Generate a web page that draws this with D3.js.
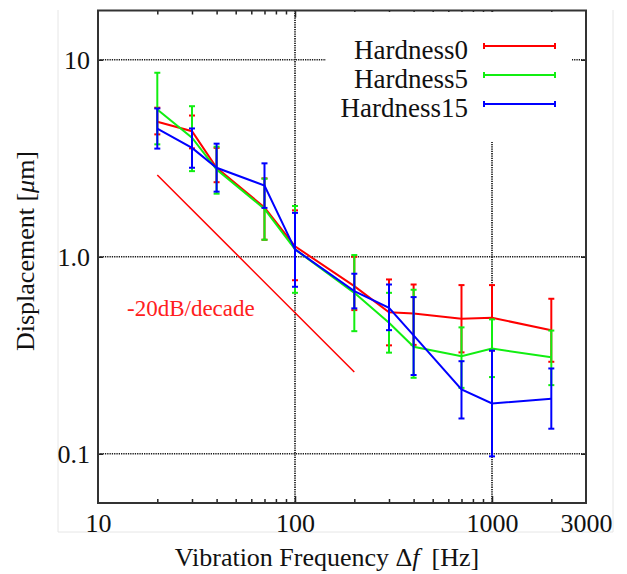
<!DOCTYPE html>
<html lang="en">
<head>
<meta charset="utf-8">
<title>Displacement vs Vibration Frequency</title>
<script src="https://cdn.jsdelivr.net/npm/d3@7"></script>
<style>
  body { margin: 0; background: #fff; }
  svg { display: block; }
  text { font-family: "Liberation Serif", "Times New Roman", serif; fill: #111; }
</style>
</head>
<body>
<script>
// values
var freqs = [20, 30, 40, 70, 100, 200, 300, 400, 700, 1000, 2000];

var h0Mean = [4.84, 4.34, 2.83, 1.78, 1.13, 0.709, 0.523, 0.515, 0.484, 0.49, 0.424];
var h0Hi   = [5.71, 5.21, 3.57, 2.50, 1.72, 1.00, 0.767, 0.723, 0.718, 0.718, 0.612];
var h0Lo   = [4.18, 3.55, 2.39, 1.22, 0.76, 0.536, 0.355, 0.357, 0.327, 0.334, 0.293];

var h5Mean = [5.59, 4.02, 2.77, 1.75, 1.09, 0.656, 0.462, 0.349, 0.313, 0.342, 0.309];
var h5Hi   = [8.59, 5.81, 3.62, 2.49, 1.81, 1.02, 0.656, 0.68, 0.438, 0.481, 0.422];
var h5Lo   = [3.72, 2.72, 2.09, 1.22, 0.656, 0.419, 0.326, 0.243, 0.216, 0.245, 0.223];

var h15Mean = [4.47, 3.57, 2.83, 2.30, 1.09, 0.669, 0.551, 0.399, 0.212, 0.180, 0.190];
var h15Hi   = [5.66, 4.48, 3.75, 2.98, 1.67, 0.82, 0.723, 0.624, 0.295, 0.334, 0.271];
var h15Lo   = [3.54, 2.83, 2.14, 1.77, 0.704, 0.547, 0.424, 0.251, 0.151, 0.097, 0.134];

var seriesNames = ["Hardness0", "Hardness5", "Hardness15"];
var seriesColors = ["#ff0000", "#11ee11", "#0000ff"];

// -20dB/decade guide line
var refFreq = [20, 200];
var refDisp = [2.6, 0.26];

var xTickVals = [10, 100, 1000, 3000];
var xMajor = [100, 1000];
var xMinor = [20, 30, 40, 50, 60, 70, 80, 90, 200, 300, 400, 500, 600, 700, 800, 900, 2000];
var yTickVals = [0.1, 1, 10];
var yTickLabels = ["0.1", "1.0", "10"];

var W = 627, H = 574;
var pL = 98, pR = 586, pT = 10.5, pB = 503;

var svg = d3.select("body").append("svg")
  .attr("width", W)
  .attr("height", H);

// faint image border seen in the reference
svg.append("path")
  .attr("d", "M58,10V532H613V10")
  .attr("fill", "none")
  .attr("stroke", "#e6e6e6");

var x = d3.scaleLog().domain([10, 3000]).range([pL, pR]);
var y = d3.scaleLog().domain([Math.pow(10, -1.25), Math.pow(10, 1.25)]).range([pB, pT]);

// dotted grid
var grid = svg.append("g")
  .attr("stroke", "#1a1a1a")
  .attr("stroke-width", 1.7)
  .attr("stroke-dasharray", "1.3,1");

grid.selectAll("line.h")
  .data(yTickVals)
  .enter()
  .append("line")
  .attr("class", "h")
  .attr("x1", pL).attr("x2", pR)
  .attr("y1", function(d) { return y(d); })
  .attr("y2", function(d) { return y(d); });

grid.selectAll("line.v")
  .data(xMajor)
  .enter()
  .append("line")
  .attr("class", "v")
  .attr("y1", pT).attr("y2", pB)
  .attr("x1", function(d) { return x(d); })
  .attr("x2", function(d) { return x(d); });

// ticks (inward)
function tickAxis(axis, tx, ty) {
  var g = svg.append("g")
    .attr("transform", "translate(" + tx + "," + ty + ")")
    .call(axis);
  g.select(".domain").remove();
  g.selectAll(".tick line").attr("stroke", "#222").attr("stroke-width", 1.5);
  return g;
}

tickAxis(d3.axisBottom(x).tickValues(xMinor).tickSize(-4).tickFormat(""), 0, pB);
tickAxis(d3.axisTop(x).tickValues(xMinor).tickSize(-4).tickFormat(""), 0, pT);
tickAxis(d3.axisBottom(x).tickValues(xMajor).tickSize(-7).tickFormat(""), 0, pB);
tickAxis(d3.axisTop(x).tickValues(xMajor).tickSize(-7).tickFormat(""), 0, pT);
tickAxis(d3.axisLeft(y).tickValues(yTickVals).tickSize(-5).tickFormat(""), pL, 0);
tickAxis(d3.axisRight(y).tickValues(yTickVals).tickSize(-5).tickFormat(""), pR, 0);

// tick labels
var xl = tickAxis(d3.axisBottom(x).tickValues(xTickVals).tickSize(0).tickPadding(11)
  .tickFormat(d3.format("d")), 0, pB);
xl.selectAll("text")
  .attr("font-family", "Liberation Serif, serif")
  .attr("font-size", 26)
  .attr("fill", "#111");

var yl = tickAxis(d3.axisLeft(y).tickValues(yTickVals).tickSize(0).tickPadding(8)
  .tickFormat(function(d, i) { return yTickLabels[i]; }), pL, 0);
yl.selectAll("text")
  .attr("font-family", "Liberation Serif, serif")
  .attr("font-size", 26)
  .attr("fill", "#111");

// frame
svg.append("rect")
  .attr("x", pL).attr("y", pT)
  .attr("width", pR - pL).attr("height", pB - pT)
  .attr("fill", "none")
  .attr("stroke", "#333")
  .attr("stroke-width", 2);

// legend box hides the grid behind it
svg.append("rect")
  .attr("x", 326).attr("y", pT + 1.5)
  .attr("width", 246).attr("height", 130)
  .attr("fill", "#fff");

// reference slope
svg.append("line")
  .attr("x1", x(refFreq[0])).attr("y1", y(refDisp[0]))
  .attr("x2", x(refFreq[1])).attr("y2", y(refDisp[1]))
  .attr("stroke", "#ff0000")
  .attr("stroke-width", 1.5);

svg.append("text")
  .attr("x", 127).attr("y", 316)
  .attr("font-size", 23)
  .style("fill", "#ff2020")
  .text("-20dB/decade");

// series
var means = [h0Mean, h5Mean, h15Mean];
var his = [h0Hi, h5Hi, h15Hi];
var los = [h0Lo, h5Lo, h15Lo];

var line = d3.line()
  .x(function(d) { return x(d.f); })
  .y(function(d) { return y(d.v); });

var cap = 3;

means.forEach(function(m, s) {
  var pts = freqs.map(function(f, i) {
    return { f: f, v: m[i], hi: his[s][i], lo: los[s][i] };
  });
  var g = svg.append("g")
    .attr("stroke", seriesColors[s])
    .attr("stroke-width", 2)
    .attr("fill", "none");

  var bars = g.selectAll("g.bar")
    .data(pts)
    .enter()
    .append("g")
    .attr("class", "bar");

  bars.append("line")
    .attr("x1", function(d) { return x(d.f); })
    .attr("x2", function(d) { return x(d.f); })
    .attr("y1", function(d) { return y(d.hi); })
    .attr("y2", function(d) { return y(d.lo); });
  bars.append("line")
    .attr("x1", function(d) { return x(d.f) - cap; })
    .attr("x2", function(d) { return x(d.f) + cap; })
    .attr("y1", function(d) { return y(d.hi); })
    .attr("y2", function(d) { return y(d.hi); });
  bars.append("line")
    .attr("x1", function(d) { return x(d.f) - cap; })
    .attr("x2", function(d) { return x(d.f) + cap; })
    .attr("y1", function(d) { return y(d.lo); })
    .attr("y2", function(d) { return y(d.lo); });

  g.append("path")
    .attr("d", line(pts));
});

// legend
var legend = svg.selectAll("g.legend")
  .data(seriesNames)
  .enter()
  .append("g")
  .attr("class", "legend")
  .attr("transform", function(d, i) { return "translate(0," + (46 + i * 29) + ")"; });

legend.append("text")
  .attr("x", 468)
  .attr("y", 13)
  .attr("text-anchor", "end")
  .attr("font-size", 27)
  .text(function(d) { return d; });

legend.append("line")
  .attr("x1", 484).attr("x2", 555)
  .attr("stroke", function(d, i) { return seriesColors[i]; })
  .attr("stroke-width", 2);
legend.append("line")
  .attr("x1", 484).attr("x2", 484).attr("y1", -3).attr("y2", 3)
  .attr("stroke", function(d, i) { return seriesColors[i]; })
  .attr("stroke-width", 2);
legend.append("line")
  .attr("x1", 555).attr("x2", 555).attr("y1", -3).attr("y2", 3)
  .attr("stroke", function(d, i) { return seriesColors[i]; })
  .attr("stroke-width", 2);

// axis titles
var xt = svg.append("text")
  .attr("x", 327).attr("y", 566)
  .attr("text-anchor", "middle")
  .attr("font-size", 26);
xt.append("tspan").text("Vibration Frequency \u0394");
xt.append("tspan").attr("font-style", "italic").text("f");
xt.append("tspan").attr("dx", 12).text("[Hz]");

var yt = svg.append("text")
  .attr("transform", "translate(34,251) rotate(-90)")
  .attr("text-anchor", "middle")
  .attr("font-size", 26);
yt.append("tspan").text("Displacement [");
yt.append("tspan").attr("font-style", "italic").text("\u03bc");
yt.append("tspan").text("m]");
</script>
</body>
</html>
